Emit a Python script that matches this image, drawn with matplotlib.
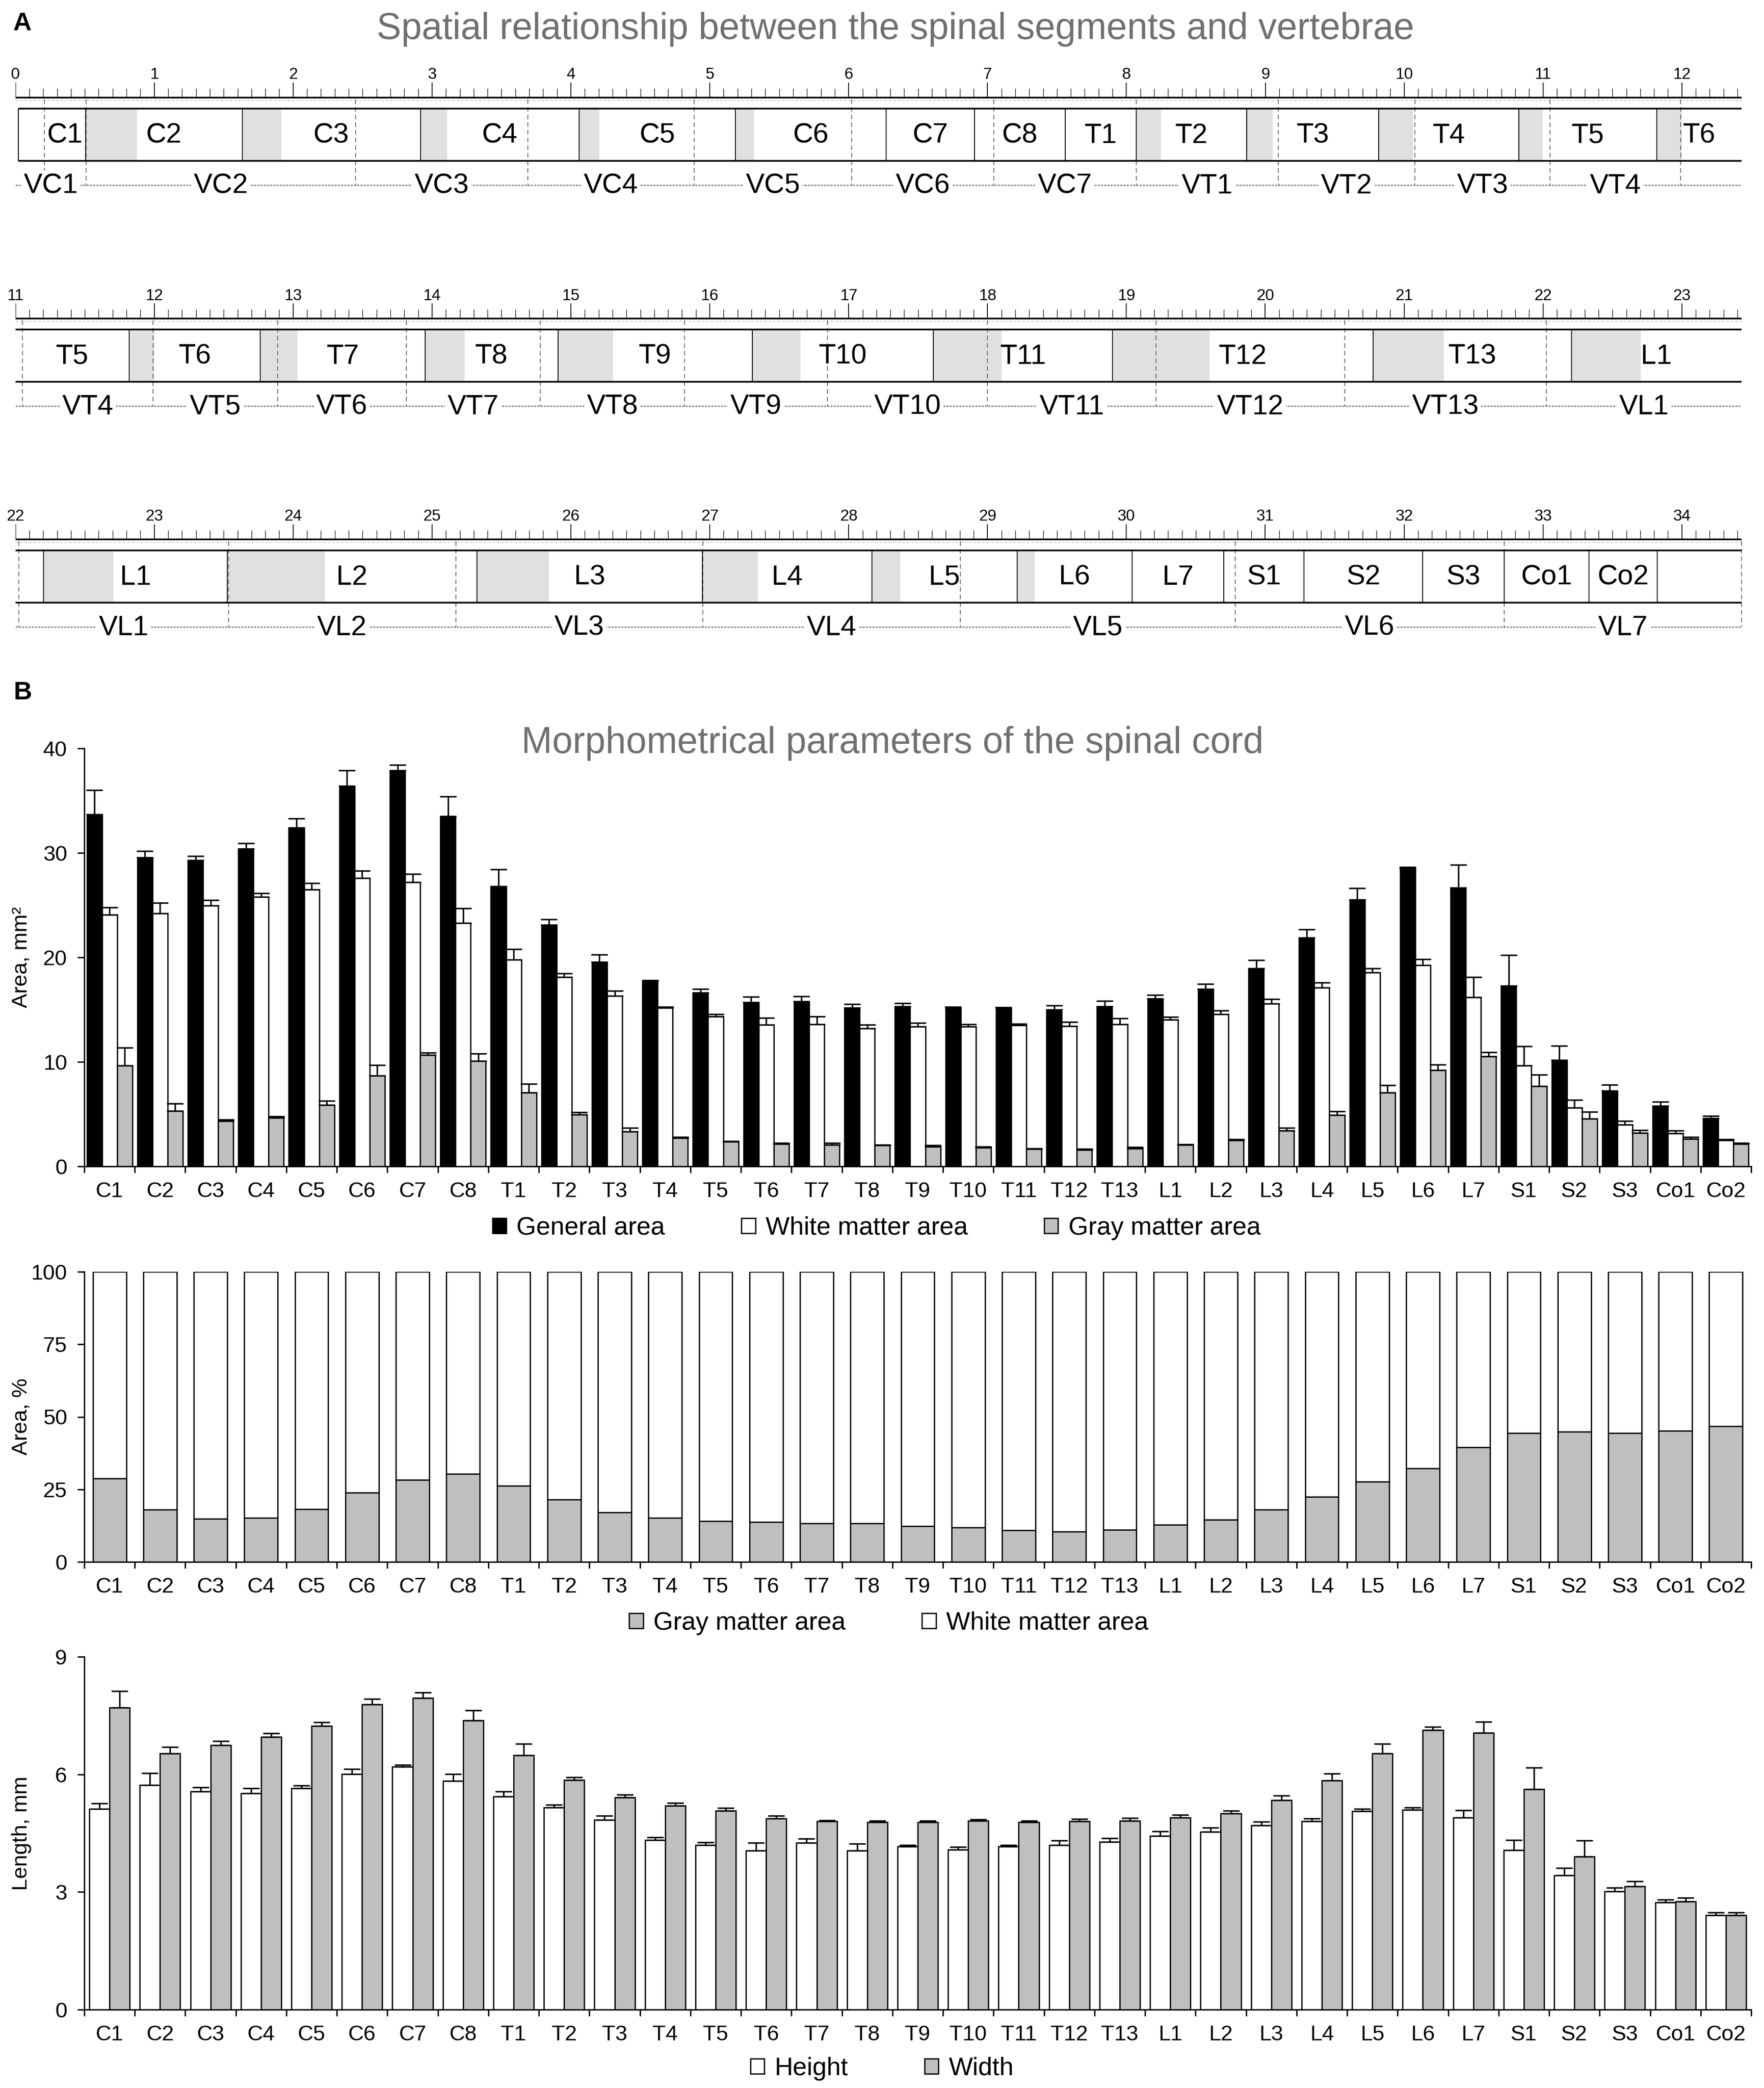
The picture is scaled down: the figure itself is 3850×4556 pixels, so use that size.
import numpy as np
import matplotlib
matplotlib.use("Agg")
import matplotlib.pyplot as plt

plt.rcParams["font.family"] = ["Liberation Sans", "DejaVu Sans"]

W, H = 3850, 4556

# spinal segments and where they start (vertebra length units)
segments = ["C1", "C2", "C3", "C4", "C5", "C6", "C7", "C8",
            "T1", "T2", "T3", "T4", "T5", "T6", "T7", "T8", "T9", "T10", "T11", "T12", "T13",
            "L1", "L2", "L3", "L4", "L5", "L6", "L7", "S1", "S2", "S3", "Co1", "Co2"]
seg_bounds = [0.21, 0.505, 1.633, 2.917, 4.058, 5.186, 6.269, 6.908,
              7.561, 8.07, 8.866, 9.817, 10.827, 11.82, 12.764, 13.95, 14.906, 16.305, 17.609, 18.901, 20.777,
              22.204, 23.526, 25.323, 26.948, 28.167, 29.212, 30.041, 30.702, 31.28, 32.133, 32.72, 33.332, 33.824]
# length of the shaded part at the start of each segment
seg_gray = [0, 0.369, 0.283, 0.193, 0.148, 0.135, 0, 0,
            0, 0.18, 0.188, 0.247, 0.172, 0.18, 0.267, 0.283, 0.398, 0.349, 0.492, 0.698, 0.508,
            0.5, 0.702, 0.517, 0.398, 0.204, 0.127, 0, 0, 0, 0, 0, 0]

vertebrae = ["VC1", "VC2", "VC3", "VC4", "VC5", "VC6", "VC7",
             "VT1", "VT2", "VT3", "VT4", "VT5", "VT6", "VT7", "VT8", "VT9", "VT10", "VT11", "VT12", "VT13",
             "VL1", "VL2", "VL3", "VL4", "VL5", "VL6", "VL7"]
vert_bounds = [0.0, 0.51, 2.449, 3.689, 4.887, 6.023, 7.044,
               8.07, 9.095, 10.076, 11.052, 11.99, 12.887, 13.815, 14.779, 15.817, 16.847, 18.0, 19.213, 20.571,
               22.024, 23.534, 25.171, 26.95, 28.806, 30.783, 32.72, 34.43]

row_starts = [0, 11, 22]

# morphometry
general = [33.7, 29.56, 29.3, 30.4, 32.4, 36.4, 37.9, 33.5,
           26.8, 23.1, 19.56, 17.7, 16.64, 15.7, 15.77, 15.17, 15.3, 15.17, 15.17, 15.0, 15.3,
           16.04, 16.98, 18.93, 21.88, 25.54, 28.49, 26.68, 17.3, 10.17, 7.25, 5.8, 4.6]
general_err = [2.3, 0.6, 0.4, 0.5, 0.9, 1.5, 0.5, 1.9,
               1.6, 0.55, 0.7, 0.1, 0.35, 0.55, 0.5, 0.35, 0.3, 0.1, 0.05, 0.4, 0.55,
               0.35, 0.47, 0.8, 0.8, 1.1, 0.17, 2.2, 2.9, 1.37, 0.54, 0.4, 0.23]
white = [24.1, 24.2, 24.97, 25.8, 26.5, 27.6, 27.2, 23.3,
         19.8, 18.1, 16.3, 15.17, 14.36, 13.56, 13.6, 13.2, 13.36, 13.36, 13.5, 13.4, 13.6,
         14.03, 14.56, 15.57, 17.1, 18.56, 19.26, 16.2, 9.66, 5.6, 3.99, 3.15, 2.48]
white_err = [0.7, 1.0, 0.5, 0.35, 0.6, 0.7, 0.8, 1.4,
             1.0, 0.35, 0.5, 0.1, 0.2, 0.65, 0.75, 0.35, 0.35, 0.25, 0.15, 0.4, 0.55,
             0.27, 0.37, 0.43, 0.47, 0.37, 0.57, 1.9, 1.85, 0.77, 0.37, 0.27, 0.1]
gray = [9.66, 5.3, 4.36, 4.63, 5.87, 8.7, 10.67, 10.1,
        7.05, 4.97, 3.32, 2.7, 2.35, 2.15, 2.08, 2.0, 1.9, 1.8, 1.65, 1.58, 1.7,
        2.05, 2.48, 3.42, 4.93, 7.08, 9.19, 10.54, 7.68, 4.56, 3.22, 2.62, 2.15]
gray_err = [1.7, 0.7, 0.1, 0.15, 0.4, 1.0, 0.2, 0.7,
            0.85, 0.2, 0.35, 0.1, 0.05, 0.07, 0.15, 0.07, 0.1, 0.07, 0.07, 0.07, 0.15,
            0.07, 0.1, 0.27, 0.33, 0.7, 0.54, 0.37, 1.1, 0.67, 0.24, 0.2, 0.1]

gray_pct = [28.7, 18.0, 14.9, 15.2, 18.1, 23.9, 28.2, 30.4,
            26.3, 21.5, 17.0, 15.2, 14.1, 13.7, 13.2, 13.2, 12.4, 11.9, 10.9, 10.5, 11.1,
            12.8, 14.6, 18.0, 22.5, 27.7, 32.3, 39.5, 44.4, 44.8, 44.4, 45.2, 46.7]

height = [5.12, 5.73, 5.56, 5.52, 5.64, 6.01, 6.20, 5.83,
          5.43, 5.16, 4.84, 4.33, 4.20, 4.06, 4.25, 4.06, 4.16, 4.08, 4.16, 4.20, 4.28,
          4.43, 4.54, 4.70, 4.80, 5.06, 5.10, 4.90, 4.07, 3.43, 3.02, 2.74, 2.41]
height_err = [0.14, 0.3, 0.11, 0.13, 0.07, 0.13, 0.04, 0.18,
              0.13, 0.07, 0.11, 0.07, 0.07, 0.2, 0.11, 0.17, 0.04, 0.07, 0.04, 0.11, 0.09,
              0.12, 0.1, 0.09, 0.07, 0.06, 0.06, 0.19, 0.26, 0.18, 0.09, 0.07, 0.07]
width = [7.70, 6.53, 6.74, 6.96, 7.23, 7.79, 7.95, 7.38,
         6.49, 5.86, 5.41, 5.20, 5.07, 4.87, 4.80, 4.78, 4.78, 4.81, 4.78, 4.80, 4.81,
         4.90, 5.00, 5.34, 5.85, 6.53, 7.13, 7.06, 5.62, 3.90, 3.14, 2.76, 2.41]
width_err = [0.42, 0.17, 0.11, 0.09, 0.1, 0.13, 0.14, 0.25,
             0.29, 0.07, 0.07, 0.07, 0.07, 0.07, 0.03, 0.04, 0.04, 0.04, 0.04, 0.06, 0.08,
             0.07, 0.07, 0.12, 0.17, 0.25, 0.08, 0.28, 0.55, 0.41, 0.13, 0.09, 0.07]


fig = plt.figure(figsize=(W / 100, H / 100), dpi=100)


def px_axes(x0, y0, x1, y1):
    return fig.add_axes([x0 / W, 1 - y1 / H, (x1 - x0) / W, (y1 - y0) / H])


# ---------------- panel A ----------------
unit = 303.1
span = 12.45
baselines = [213, 695, 1177]
box_top, box_bot, dot_y = 24, 138, 191

for r, (start, base) in enumerate(zip(row_starts, baselines)):
    ax = px_axes(33.6, base - 90, 33.6 + span * unit, base + 230)
    ax.set_xlim(start, start + span)
    ax.set_ylim(230, -90)
    ax.axis("off")
    end = start + 12.43
    box_l = start + 0.02 if r == 0 else start

    # ruler
    ax.plot([start, end], [0, 0], color="black", lw=2.6, solid_capstyle="butt", zorder=3)
    ax.plot([start, end], [6, 6], color="#bbbbbb", lw=1, ls=(0, (4, 3)), zorder=2)
    minor = [start + i / 10 for i in range(125) if i % 10 != 0]
    major = [start + i for i in range(13)]
    ax.vlines(minor, -20, 0, color="black", lw=0.9)
    ax.vlines(major, -33, 0, color="black", lw=1.3)
    for m in major:
        ax.text(m, -50, str(int(m)), ha="center", va="center", fontsize=25)

    # shaded parts of segments
    for i, g in enumerate(seg_gray):
        if g <= 0:
            continue
        a = max(seg_bounds[i], box_l)
        b = min(seg_bounds[i] + g, end)
        if b > a:
            ax.fill_between([a, b], box_top, box_bot, color="#e0e0e0", lw=0, zorder=1)

    # box
    ax.plot([box_l, end], [box_top, box_top], color="black", lw=2.6, solid_capstyle="butt", zorder=3)
    ax.plot([box_l, end], [box_bot, box_bot], color="black", lw=2.6, solid_capstyle="butt", zorder=3)
    if r == 0:
        ax.vlines(box_l, box_top, box_bot, color="black", lw=1.4, zorder=3)
    for b in seg_bounds[1:]:
        if box_l < b <= end:
            ax.vlines(b, box_top, box_bot, color="black", lw=1.4, zorder=3)

    for i, name in enumerate(segments):
        a = max(seg_bounds[i], box_l)
        b = min(seg_bounds[i + 1], end)
        if b - a > 0.25:
            ax.text((a + b) / 2, 83, name, ha="center", va="center", fontsize=44, zorder=4)

    # vertebrae
    ax.plot([start, end], [dot_y, dot_y], color="#8c8c8c", lw=2.2, ls=(0, (1.5, 0.8)), zorder=2)
    dashed = [seg_bounds[0]] + vert_bounds[1:]
    for d in dashed:
        if start <= d <= start + span:
            ax.vlines(d, 4, dot_y, color="#555555", lw=1.2, linestyles=(0, (6, 4)), zorder=2)
    for j, name in enumerate(vertebrae):
        a = max(vert_bounds[j], start)
        b = min(vert_bounds[j + 1], end)
        if b - a > 0.45:
            ax.text((a + b) / 2, dot_y + 2, name, ha="center", va="center", fontsize=44, zorder=5,
                    bbox=dict(facecolor="white", edgecolor="none", pad=4))

fig.text(49 / W, 1 - 52 / H, "A", fontsize=40, fontweight="bold", ha="center", va="center")
fig.text(1954 / W, 1 - 64 / H, "Spatial relationship between the spinal segments and vertebrae",
         fontsize=58, color="#707070", ha="center", va="center")

# ---------------- panel B ----------------
fig.text(49 / W, 1 - 1512 / H, "B", fontsize=40, fontweight="bold", ha="center", va="center")
fig.text(1948 / W, 1 - 1622 / H, "Morphometrical parameters of the spinal cord",
         fontsize=58, color="#707070", ha="center", va="center")

x = np.arange(len(segments))
ax_left, ax_right = 184, 3822
bar_kw = dict(edgecolor="black", linewidth=2)
err_kw = dict(elinewidth=2.4, capthick=2.4, ecolor="black")
leg_kw = dict(frameon=False, fontsize=40, handlelength=0.55, handleheight=0.55,
              handletextpad=0.4, columnspacing=3.0, loc="center", bbox_transform=fig.transFigure)


def style_axes(ax, ymax, yticks, ylabel):
    ax.set_xlim(0, len(segments))
    ax.set_ylim(0, ymax)
    ax.spines[["top", "right"]].set_visible(False)
    for s in ["left", "bottom"]:
        ax.spines[s].set_linewidth(2.2)
    ax.set_yticks(yticks)
    ax.set_xticks(np.arange(len(segments) + 1))
    ax.set_xticklabels([])
    ax.set_xticks(x + 0.5, segments, minor=True)
    ax.tick_params(axis="x", which="major", length=10, width=2.2, direction="out")
    ax.tick_params(axis="x", which="minor", length=0, pad=24, labelsize=34)
    ax.tick_params(axis="y", length=11, width=2.2, labelsize=34, pad=16)
    ax.set_ylabel(ylabel, fontsize=34)
    ax.yaxis.set_label_coords(-0.0316, 0.5)


def upper(err):
    return [np.zeros(len(err)), err]


ax1 = px_axes(ax_left, 1633, ax_right, 2545)
b1 = ax1.bar(x + 0.2, general, 0.3, color="black", yerr=upper(general_err), capsize=13,
             error_kw=err_kw, label="General area", **bar_kw)
b2 = ax1.bar(x + 0.5, white, 0.3, color="white", yerr=upper(white_err), capsize=13,
             error_kw=err_kw, label="White matter area", **bar_kw)
b3 = ax1.bar(x + 0.8, gray, 0.3, color="#bfbfbf", yerr=upper(gray_err), capsize=13,
             error_kw=err_kw, label="Gray matter area", **bar_kw)
style_axes(ax1, 40, [0, 10, 20, 30, 40], "Area, mm²")
ax1.legend(handles=[b1, b2, b3], ncol=3, bbox_to_anchor=(1913 / W, 1 - 2680 / H), **leg_kw)

ax2 = px_axes(ax_left, 2775, ax_right, 3408)
gp = np.array(gray_pct)
c1 = ax2.bar(x + 0.5, gp, 0.66, color="#bfbfbf", label="Gray matter area", **bar_kw)
c2 = ax2.bar(x + 0.5, 100 - gp, 0.66, bottom=gp, color="white", label="White matter area", **bar_kw)
style_axes(ax2, 100, [0, 25, 50, 75, 100], "Area, %")
ax2.legend(handles=[c1, c2], ncol=2, bbox_to_anchor=(1940 / W, 1 - 3542 / H), **leg_kw)

ax3 = px_axes(ax_left, 3615, ax_right, 4385)
d1 = ax3.bar(x + 0.3, height, 0.4, color="white", yerr=upper(height_err), capsize=13,
             error_kw=err_kw, label="Height", **bar_kw)
d2 = ax3.bar(x + 0.7, width, 0.4, color="#bfbfbf", yerr=upper(width_err), capsize=13,
             error_kw=err_kw, label="Width", **bar_kw)
style_axes(ax3, 9, [0, 3, 6, 9], "Length, mm")
ax3.legend(handles=[d1, d2], ncol=2, bbox_to_anchor=(1925 / W, 1 - 4514 / H), **leg_kw)

fig.savefig("out.png", dpi=100, facecolor="white")
